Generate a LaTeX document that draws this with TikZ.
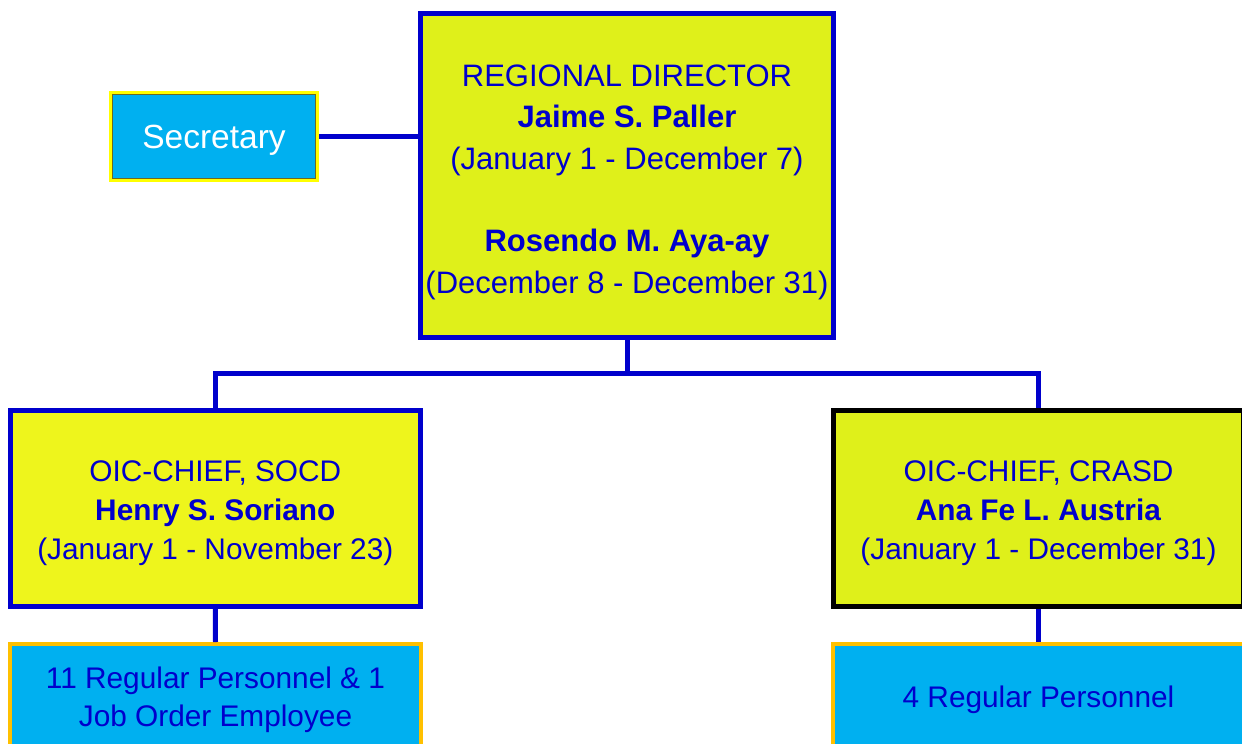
\documentclass[tikz,border=0pt]{standalone}
\usepackage{fontspec}
\setmainfont{Liberation Sans}
\definecolor{lineblue}{RGB}{0,0,204}
\definecolor{dirfill}{RGB}{223,240,26}
\definecolor{socfill}{RGB}{238,245,28}
\definecolor{cyanfill}{RGB}{0,176,240}
\definecolor{orangeb}{RGB}{255,192,0}
\definecolor{secyellow}{RGB}{255,255,0}
\newcommand{\upstrut}[1]{\rule{0pt}{#1}}
\begin{document}
\begin{tikzpicture}[x=1pt,y=-1pt,
  box/.style={rectangle,inner sep=0pt,align=center,text=lineblue,line width=5pt},
  conn/.style={draw=lineblue,line width=5pt},
]
\useasboundingbox (0,0) rectangle (1242,744);
% Regional director
\node[box,draw=lineblue,fill=dirfill,minimum width=413pt,minimum height=324pt,
  font=\fontsize{31}{41.5}\selectfont] (dir) at (627,175.5)
  {\upstrut{35pt}REGIONAL DIRECTOR\\ \textbf{Jaime S. Paller}\\ (January 1 - December 7)\\[41pt] \textbf{Rosendo M. Aya-ay}\\ (December 8 - December 31)};
% Secretary
\node[rectangle,inner sep=0pt,draw=secyellow,line width=4pt,fill=cyanfill,text=white,
  minimum width=206pt,minimum height=87pt,font=\fontsize{33.5}{40}\selectfont] (sec) at (214,136.5) {\upstrut{31pt}Secretary};
\draw[draw=olive!70!black,line width=0.8pt] ([shift={(3.5,3.5)}]sec.north west) rectangle ([shift={(-3.5,-3.5)}]sec.south east);
% Division boxes
\node[box,draw=lineblue,fill=socfill,minimum width=410.5pt,minimum height=196pt,
  font=\fontsize{29.8}{39}\selectfont] (soc) at (215.3,508)
  {\upstrut{32pt}OIC-CHIEF, SOCD\\ \textbf{Henry S. Soriano}\\ (January 1 - November 23)};
\node[box,draw=black,fill=dirfill,minimum width=410pt,minimum height=196pt,
  font=\fontsize{29.8}{39}\selectfont] (cra) at (1038.5,508)
  {\upstrut{32pt}OIC-CHIEF, CRASD\\ \textbf{Ana Fe L. Austria}\\ (January 1 - December 31)};
% Personnel boxes
\node[box,draw=orangeb,line width=4pt,fill=cyanfill,minimum width=411pt,minimum height=112pt,
  font=\fontsize{29.8}{38}\selectfont] (bl) at (215.5,700)
  {11 Regular Personnel \& 1\\ Job Order Employee};
\node[box,draw=orangeb,line width=4pt,fill=cyanfill,minimum width=411pt,minimum height=112pt,
  font=\fontsize{29.8}{38}\selectfont] (br) at (1038.5,700)
  {4 Regular Personnel};
% Connectors
\coordinate (bus) at (627,373);
\draw[conn] (sec.east) -- (sec.east -| dir.west);
\draw[conn] (dir.south) -- (bus) -| (soc.north);
\draw[conn] (bus) -| (cra.north);
\draw[conn] (soc.south) -- (bl.north);
\draw[conn] (cra.south) -- (br.north);
\end{tikzpicture}
\end{document}
